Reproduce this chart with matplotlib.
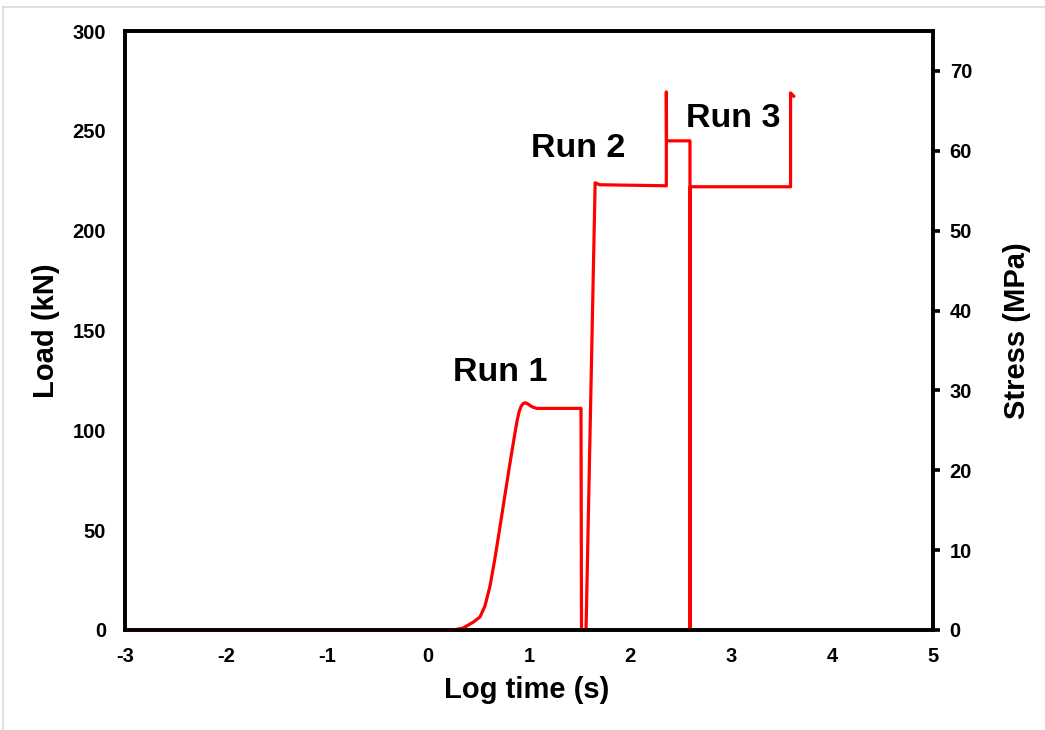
import matplotlib
matplotlib.use("Agg")
import matplotlib.pyplot as plt
from matplotlib.lines import Line2D

plt.rcParams['font.family'] = ['Liberation Sans', 'DejaVu Sans']
plt.rcParams['font.weight'] = 'bold'
plt.rcParams['axes.unicode_minus'] = False

# log10 of time (s) and load (kN)
log_time = [-3.0, 0.25, 0.35, 0.45, 0.515, 0.564, 0.614, 0.66, 0.713, 0.762,
            0.812, 0.861, 0.885, 0.905, 0.925, 0.945, 0.965, 0.99, 1.03, 1.076,
            1.515, 1.52, 1.53, 1.545, 1.565, 1.655, 1.70, 2.36, 2.36, 2.362,
            2.594, 2.594, 2.597, 2.597, 3.59, 3.59, 3.62]
load = [0.0, 0.0, 1.0, 4.0, 6.5, 12.0, 22.0, 35.0, 51.7, 67.6,
        83.6, 98.6, 105.5, 109.8, 112.3, 113.5, 113.8, 113.2, 111.8, 111.0,
        111.0, 0.0, 0.0, 0.0, 0.0, 224.0, 223.0, 222.5, 269.5, 245.0,
        245.0, 0.0, 0.0, 222.0, 222.0, 269.0, 267.4]

run_labels = ['Run 1', 'Run 2', 'Run 3']
run_x = [0.72, 1.49, 3.02]
run_y = [129, 241, 256]

load_ticks = [0, 50, 100, 150, 200, 250, 300]
stress_ticks = [0, 10, 20, 30, 40, 50, 60, 70]
time_ticks = [-3, -2, -1, 0, 1, 2, 3, 4, 5]

fig = plt.figure(figsize=(10.45, 7.3), dpi=100)
ax = fig.add_axes([0.1196, 0.137, 0.7732, 0.8205])

ax.plot(log_time, load, color='#ff0000', lw=2.3, zorder=5, clip_on=False,
        solid_joinstyle='round')

ax.set_xlim(-3, 5)
ax.set_ylim(0, 300)
ax.set_xticks(time_ticks)
ax.set_yticks(load_ticks)
ax.tick_params(axis='x', length=0, pad=12, labelsize=14.5)
ax.tick_params(axis='y', length=0, pad=13.5, labelsize=14.5)
for s in ax.spines.values():
    s.set_linewidth(2.6)

ax.set_xlabel('Log time (s)', fontsize=21, fontweight='bold')
ax.set_ylabel('Load (kN)', fontsize=21, fontweight='bold')
ax.xaxis.set_label_coords(0.4975, -0.076)
ax.yaxis.set_label_coords(-0.080, 0.5)

for lab, x, y in zip(run_labels, run_x, run_y):
    ax.text(x, y, lab, fontsize=24.5, fontweight='bold', ha='center', va='center')

ax2 = ax.twinx()
ax2.set_ylim(0, 75)
ax2.set_yticks(stress_ticks)
ax2.tick_params(axis='y', length=5, width=2.6, pad=7, labelsize=14.5, direction='out')
ax2.set_ylabel('Stress (MPa)', fontsize=21, fontweight='bold')
ax2.yaxis.set_label_coords(1.0866, 0.5)
for s in ax2.spines.values():
    s.set_linewidth(2.6)

# light chart-area border like the source
fig.add_artist(Line2D([3 / 1045, 1], [1 - 7 / 730, 1 - 7 / 730],
                      transform=fig.transFigure, color='#d9d9d9', lw=1.2))
fig.add_artist(Line2D([3 / 1045, 3 / 1045], [0, 1 - 7 / 730],
                      transform=fig.transFigure, color='#d9d9d9', lw=1.2))

fig.savefig('out.png', dpi=100)
